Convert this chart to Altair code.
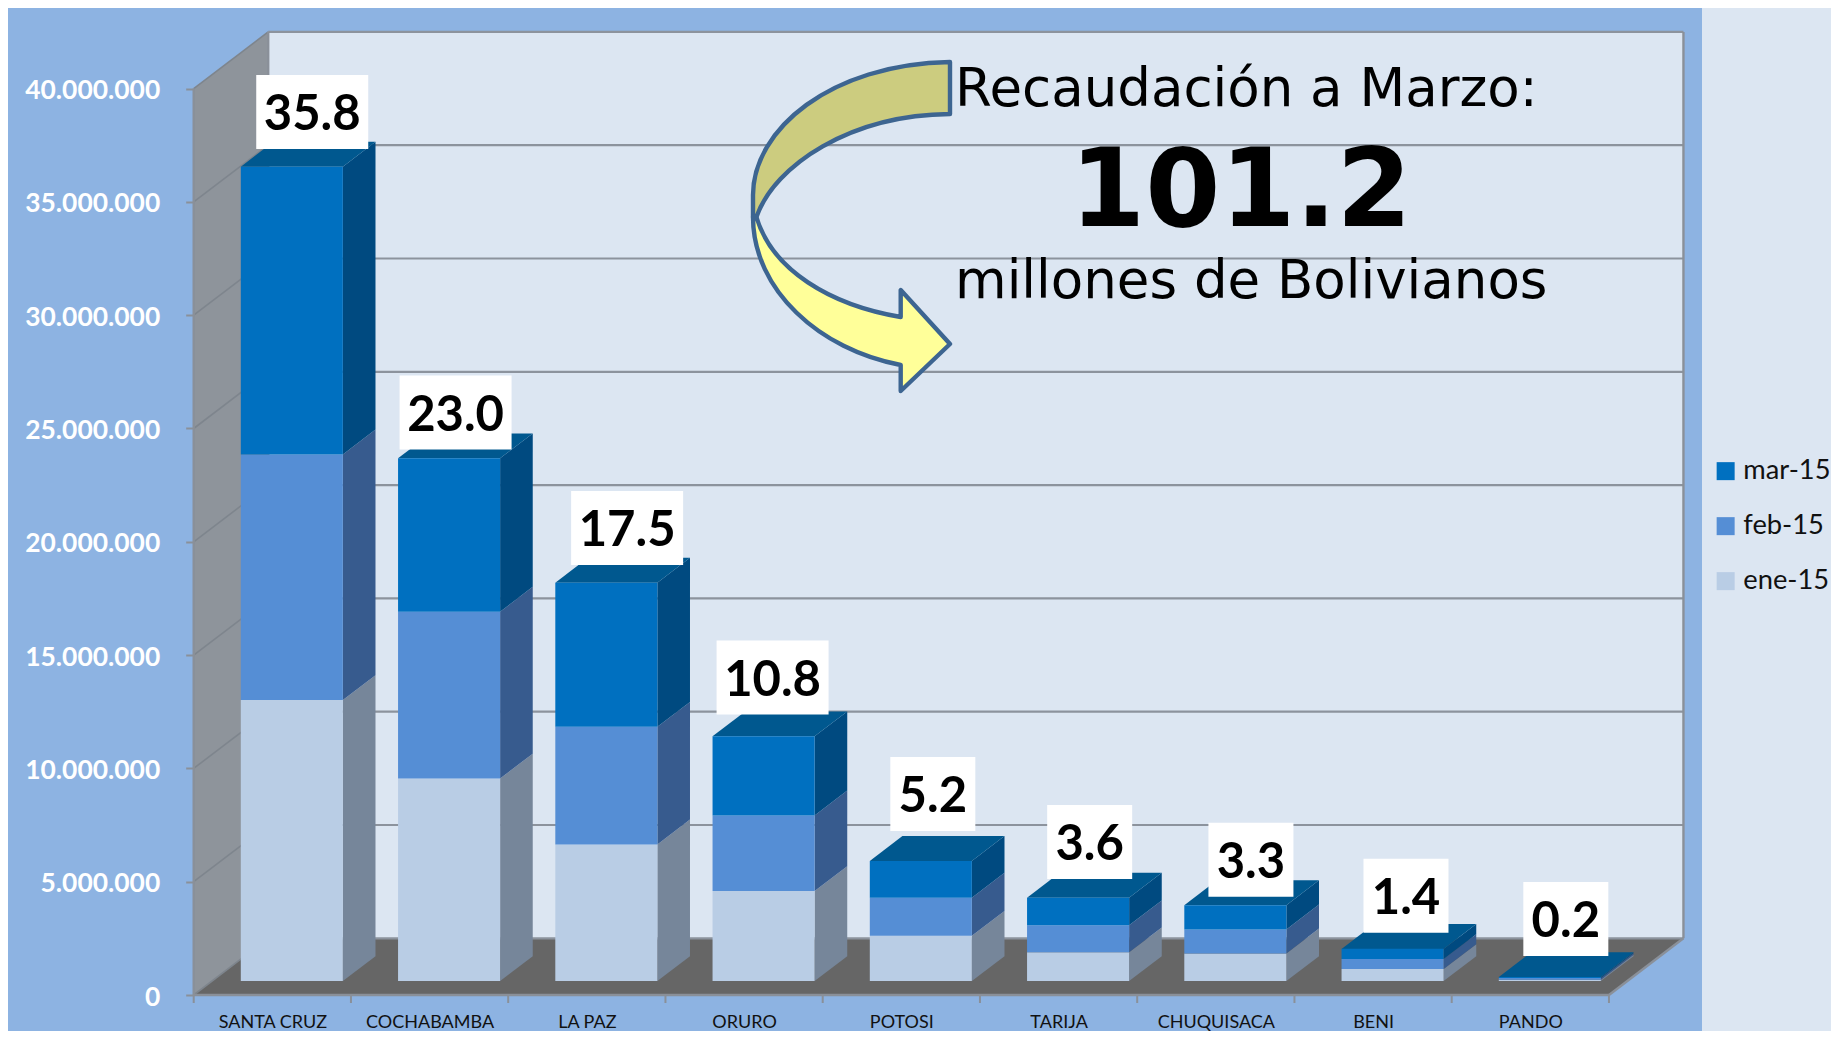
import altair as alt
import pandas as pd

# ---------- chart values ----------
departments = ["SANTA CRUZ", "COCHABAMBA", "LA PAZ", "ORURO", "POTOSI", "TARIJA", "CHUQUISACA", "BENI", "PANDO"]
ene_15 = [12400000, 8940000, 6030000, 3970000, 2000000, 1270000, 1220000, 530000, 60000]
feb_15 = [10840000, 7360000, 5190000, 3340000, 1680000, 1190000, 1060000, 440000, 70000]
mar_15 = [12700000, 6770000, 6360000, 3490000, 1620000, 1220000, 1070000, 450000, 50000]
shown_totals = ["35.8", "23.0", "17.5", "10.8", "5.2", "3.6", "3.3", "1.4", "0.2"]
months = ["mar-15", "feb-15", "ene-15"]
y_ticks = [0, 5000000, 10000000, 15000000, 20000000, 25000000, 30000000, 35000000, 40000000]
headline = "Recaudación a Marzo:"
amount = "101.2"
unit = "millones de Bolivianos"

# ---------- layout ----------
W, H = 1823, 1023
PX_CAT = 157.25
PX_VAL = 22.66 / 1e6
X0, Y0 = 193.7, 995.0      # screen position of the axis origin
DEPTH_X = 74.5 / PX_CAT    # full depth of the box, in category units
DEPTH_Y = 56.7 / PX_VAL    # full depth of the box, in value units
BAR_IN, BAR_W = 0.183, 0.649
D0, D1 = 0.246, 0.684      # bar front and back inside the box depth

X_DOM = [(8 - X0) / PX_CAT, (8 + W - X0) / PX_CAT]
Y_DOM = [(Y0 - (8 + H)) / PX_VAL, (Y0 - 8) / PX_VAL]
x_scale = alt.Scale(domain=X_DOM, nice=False, zero=False)
y_scale = alt.Scale(domain=Y_DOM, nice=False, zero=False)
n = len(departments)
PANEL_R = (1702 - X0) / PX_CAT

COL = {
    "mar-15": ("#0070C0", "#004A80", "#00588F"),
    "feb-15": ("#558ED5", "#375B8E", "#375B8E"),
    "ene-15": ("#B9CDE5", "#76869A", "#76869A"),
}
GRID = "#8C939D"
FONT = "Lato"

x_axis = alt.Axis(
    values=[i + 0.5 for i in range(n)], title=None, domain=False, grid=False, ticks=False,
    offset=-(8 + H - Y0), labelPadding=18, labelFont=FONT, labelFontSize=18, labelColor="#111111",
    labelExpr="[" + ",".join("'%s'" % d for d in departments) + "][datum.value - 0.5]", zindex=1)
y_axis = alt.Axis(
    values=y_ticks, title=None, domain=False, grid=False, offset=-(X0 - 8), tickColor="#8A9099", tickSize=8, tickWidth=2,
    labelPadding=26, labelFont=FONT, labelFontSize=26.4, labelFontWeight="bold", labelColor="#FFFFFF", labelOffset=2,
    labelExpr="datum.value == 0 ? '0' : (floor(datum.value / 1000000) + '.000.000')", zindex=1)


def px(v):
    return alt.X(v, type="quantitative", scale=x_scale, axis=x_axis)


def py(v):
    return alt.Y(v, type="quantitative", scale=y_scale, axis=y_axis)


layers = []

# chart panel and box
layers.append(alt.Chart(pd.DataFrame({"x": [X_DOM[0]], "x2": [PANEL_R], "y": [Y_DOM[0]], "y2": [Y_DOM[1]]}))
              .mark_rect(color="#8DB3E2").encode(x=px("x"), x2="x2:Q", y=py("y"), y2="y2:Q"))
layers.append(alt.Chart(pd.DataFrame({"x": [DEPTH_X], "x2": [n + DEPTH_X], "y": [DEPTH_Y], "y2": [40e6 + DEPTH_Y]}))
              .mark_rect(color="#DCE6F2").encode(x=px("x"), x2="x2:Q", y=py("y"), y2="y2:Q"))
# left wall
layers.append(alt.Chart(pd.DataFrame({"x": [0, DEPTH_X], "y": [0, DEPTH_Y], "y2": [40e6, 40e6 + DEPTH_Y]}))
              .mark_area(color="#8E949B", opacity=1).encode(x=px("x"), y=py("y"), y2="y2:Q"))
# floor
layers.append(alt.Chart(pd.DataFrame({"y": [0, DEPTH_Y], "x": [0, DEPTH_X], "x2": [n, n + DEPTH_X]}))
              .mark_area(color="#666666", orient="horizontal", opacity=1).encode(x=px("x"), x2="x2:Q", y=py("y")))
# gridlines on the back wall and across the left wall
grid_rows = [{"x": DEPTH_X, "x2": n + DEPTH_X, "y": v + DEPTH_Y} for v in y_ticks]
layers.append(alt.Chart(pd.DataFrame(grid_rows)).mark_rule(color=GRID, strokeWidth=2.2)
              .encode(x=px("x"), x2="x2:Q", y=py("y")))
wall_rows = []
for v in y_ticks:
    wall_rows += [{"v": v, "x": 0, "y": v}, {"v": v, "x": DEPTH_X, "y": v + DEPTH_Y}]
layers.append(alt.Chart(pd.DataFrame(wall_rows)).mark_line(color="#7E858D", strokeWidth=1.6)
              .encode(x=px("x"), y=py("y"), detail="v:N"))
# box edges
edges = [
    ("a", 0, 0), ("a", 0, 40e6),
    ("b", DEPTH_X, DEPTH_Y), ("b", DEPTH_X, 40e6 + DEPTH_Y),
    ("c", n + DEPTH_X, DEPTH_Y), ("c", n + DEPTH_X, 40e6 + DEPTH_Y),
    ("d", 0, 0), ("d", n, 0),
    ("e", n, 0), ("e", n + DEPTH_X, DEPTH_Y),
]
edges_df = pd.DataFrame(edges, columns=["e", "x", "y"])
layers.append(alt.Chart(edges_df).mark_line(color="#8A9099", strokeWidth=2.4)
              .encode(x=px("x"), y=py("y"), detail="e:N"))
# category ticks
layers.append(alt.Chart(pd.DataFrame({"x": list(range(n + 1)), "y": [0.0] * (n + 1), "y2": [-8 / PX_VAL] * (n + 1)}))
              .mark_rule(color="#8A9099", strokeWidth=2)
              .encode(x=px("x"), y=py("y"), y2="y2:Q"))

# ---------- bars ----------
series = {"ene-15": ene_15, "feb-15": feb_15, "mar-15": mar_15}
front, side, top = [], [], []
for i, dep in enumerate(departments):
    lo = 0
    for m in ["ene-15", "feb-15", "mar-15"]:
        hi = lo + series[m][i]
        l0 = i + BAR_IN + D0 * DEPTH_X
        r0 = l0 + BAR_W
        shift0, shift1 = D0 * DEPTH_Y, D1 * DEPTH_Y
        front.append({"dep": dep, "month": m, "x": l0, "x2": r0, "y": lo + shift0, "y2": hi + shift0})
        r1 = i + BAR_IN + D1 * DEPTH_X + BAR_W
        side.append({"dep": dep, "month": m, "x": r0, "y": lo + shift0, "y2": hi + shift0})
        side.append({"dep": dep, "month": m, "x": r1, "y": lo + shift1, "y2": hi + shift1})
        lo = hi
    l1 = i + BAR_IN + D1 * DEPTH_X
    top.append({"dep": dep, "y": lo + shift0, "x": l0, "x2": r0})
    top.append({"dep": dep, "y": lo + shift1, "x": l1, "x2": l1 + BAR_W})
side_df = pd.DataFrame(side)
for m in ["ene-15", "feb-15", "mar-15"]:
    layers.append(alt.Chart(side_df[side_df.month == m]).mark_area(color=COL[m][1], opacity=1)
                  .encode(x=px("x"), y=py("y"), y2="y2:Q", detail="dep:N"))
layers.append(alt.Chart(pd.DataFrame(top)).mark_area(color=COL["mar-15"][2], orient="horizontal", opacity=1)
              .encode(x=px("x"), x2="x2:Q", y=py("y"), detail="dep:N"))
layers.append(alt.Chart(pd.DataFrame(front)).mark_rect(opacity=1).encode(
    x=px("x"), x2="x2:Q", y=py("y"), y2="y2:Q",
    color=alt.Color("month:N", scale=alt.Scale(domain=months, range=[COL[m][0] for m in months]),
                    legend=alt.Legend(orient="none", legendX=1704, legendY=449.5, title=None, symbolType="square",
                                      symbolSize=324, symbolStrokeWidth=0, labelFont=FONT, labelFontSize=27.3,
                                      labelColor="#111111", rowPadding=27, padding=0, labelOffset=4)),
))

# ---------- hand-placed value boxes: nudges from the top of each bar, in pixels ----------
NUDGE_X = [20.4, 6.5, 20.8, 9, 12, 11.6, 15.6, 13.4, 16]
NUDGE_Y = [54.7, 45.8, 54.7, 58.8, 67, 55.7, 45.5, 53, 58]
box, lab = [], []
for i, t in enumerate(shown_totals):
    total = ene_15[i] + feb_15[i] + mar_15[i] + D0 * DEPTH_Y
    cx = i + BAR_IN + D0 * DEPTH_X + BAR_W / 2 + NUDGE_X[i] / PX_CAT
    cy = total + NUDGE_Y[i] / PX_VAL
    half = (112 if len(t) == 4 else 85) / 2 / PX_CAT
    box.append({"x": cx - half, "x2": cx + half, "y": cy - 37 / PX_VAL, "y2": cy + 37 / PX_VAL})
    lab.append({"x": cx, "y": cy - 3.5 / PX_VAL, "t": t})
layers.append(alt.Chart(pd.DataFrame(box)).mark_rect(color="white").encode(x=px("x"), x2="x2:Q", y=py("y"), y2="y2:Q"))
layers.append(alt.Chart(pd.DataFrame(lab)).mark_text(font=FONT, fontWeight="bold", fontSize=49, color="black", baseline="middle", align="center")
              .encode(x=px("x"), y=py("y"), text="t:N"))

# ---------- curved arrow, drawn as one symbol (path units are pixels at size 4) ----------
ARROW_AT = (852 - 8, 225 - 8)
UPPER = "M98,-163 C-22,-161 -99,-95 -99,-30 L-99,-8 L-95.6,-8 C-77,-60 -2,-110 98,-111 Z"
LOWER = "M-99,-8 C-99,65 -32,125 48.7,140 L48.7,166 L98,119 L48.7,65 L48.7,92 C-22,80 -80,45 -95.6,-8 Z"
for path, fill in [(UPPER, "#CCCC7F"), (LOWER, "#FFFF99")]:
    layers.append(alt.Chart(pd.DataFrame({"k": [0]})).mark_point(shape=path, size=4, filled=True, fill=fill, stroke="#3D6591",
                                                                  strokeWidth=4.4, opacity=1, strokeJoin="round")
                  .encode(x=alt.value(ARROW_AT[0]), y=alt.value(ARROW_AT[1])))

# ---------- headline ----------
for txt, xp, yp, size, weight in [(headline, 955 - 8, 106 - 8, 53, "normal"),
                                  (amount, 1070 - 8, 226 - 8, 108, "bold"),
                                  (unit, 955 - 8, 298 - 8, 53, "normal")]:
    layers.append(alt.Chart(pd.DataFrame({"t": [txt]})).mark_text(font="DejaVu Sans", fontSize=size, fontWeight=weight, color="black",
                                                                   align="left", baseline="alphabetic")
                  .encode(x=alt.value(xp), y=alt.value(yp), text="t:N"))

chart = alt.layer(*layers).properties(width=W, height=H, background="#DCE6F2", padding=0,
                                      autosize=alt.AutoSizeParams(type="none")).configure_view(stroke=None)
chart.save("out.html", embed_options={"renderer": "svg", "actions": False})
